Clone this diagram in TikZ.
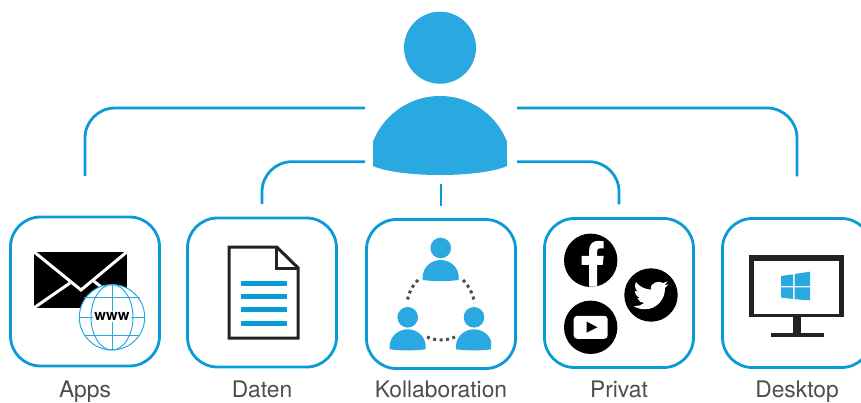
\documentclass[tikz,border=0pt]{standalone}
\usepackage{fontspec}
\setmainfont{TeX Gyre Heros}
\usetikzlibrary{positioning}
\definecolor{linkblue}{HTML}{0A9BD6}
\definecolor{userblue}{HTML}{29A9E0}
\definecolor{captiongray}{HTML}{4D4D4D}
\definecolor{framegray}{HTML}{222222}

\begin{document}
\begin{tikzpicture}[
		x=1pt,y=-1pt,
		tile/.style={draw=linkblue,line width=2.8pt,rounded corners=30pt,minimum width=149pt,minimum height=149pt,inner sep=0pt,outer sep=0pt},
		caption/.style={anchor=base,text=captiongray,font=\fontsize{22.8}{24}\selectfont,inner sep=0pt},
		link/.style={draw=linkblue,line width=2.8pt,rounded corners=30pt},
		usershape/.style={fill=userblue,draw=none},
		bar/.style={fill=linkblue},
		peerlink/.style={draw=captiongray,line width=3pt,dash pattern=on 3pt off 3.5pt},
		pics/peer/.style={code={
			\fill[userblue] (0,-32) circle (10.3);
			\fill[userblue] (-18,0) -- (-18,-3) arc (180:360:18 and 17) -- (18,-3) -- (18,0) .. controls (6,1.5) and (-6,1.5) .. cycle;
		}}
	]
	\useasboundingbox (0,0) rectangle (861,403);

	% user on top
	\node[circle,usershape,minimum size=72pt,inner sep=0pt] (head) at (440,47.7) {};
	\node[minimum width=152pt,minimum height=53.7pt,inner sep=0pt,outer sep=0pt] (user) at (441,134.85) {};
	\fill[usershape] (373,166) -- (373,141.6) arc (201.5:338.5:72) -- (507,166)
		.. controls (480,178) and (400,178) .. cycle;

	% tiles with captions
	\foreach \name/\x/\y/\txt in {apps/85/291.5/Apps,daten/262/292.5/Daten,kollab/441/294/Kollaboration,privat/619/293/Privat,desktop/797/293/Desktop}{
		\node[tile] (\name) at (\x,\y) {};
		\node[caption] (\name-cap) at (\x,397) {\txt};
	}

	% connectors
	\draw[link,shorten >=41pt] (user.north west) -| (apps.north);
	\draw[link,shorten >=14pt] (user.south west) -| (daten.north);
	\draw[link,shorten <=22.5pt,shorten >=13.5pt,rounded corners=0pt] (user.south) -- (kollab.north);
	\draw[link,shorten >=14pt] (user.south east) -| (privat.north);
	\draw[link,shorten >=42pt] (user.north east) -| (desktop.north);

	% mail with globe
	\fill[black] (34,252) rectangle (127,307.7);
	\draw[white,line width=3pt] (33,251) -- (81,290) -- (128,251);
	\draw[white,line width=3pt] (33,308.5) -- (70,283);
	\draw[white,line width=3pt] (93,280.5) -- (128,308);
	\begin{scope}[shift={(112,317.3)},draw=userblue,line width=1pt]
		\draw[fill=white] (0,0) circle (32.7);
		\draw (0,0) ellipse (21 and 32.7);
		\draw (0,-32.7) -- (0,32.7);
		\draw (-28,-20) -- (28,-20);
		\draw (-28,18) -- (28,18);
		\draw (-32.7,0) -- (32.7,0);
	\end{scope}
	\node[fill=white,inner sep=1pt,font=\bfseries\fontsize{15}{15}\selectfont] (www) at (112,316.5) {www};

	% document
	\draw[framegray,line width=3pt,fill=white,line join=miter] (229,247) -- (276.7,247) -- (298.2,268) -- (298.2,338) -- (229,338) -- cycle;
	\draw[framegray,line width=3pt] (276.7,247) -- (276.7,268.5) -- (298.2,268.5);
	\foreach \y in {283.3,296,309.3,323.3}
		\fill[bar] (241.3,\y-2.5) rectangle (286.7,\y+2.5);

	% collaboration
	\pic at (440.7,280) {peer};
	\pic at (407.7,349.3) {peer};
	\begin{scope}
		\clip (450,300) rectangle (491,352);
		\pic at (474,349.3) {peer};
	\end{scope}
	\draw[peerlink] (418,280) .. controls (412,286) and (408,294) .. (407,303);
	\draw[peerlink] (463,280) .. controls (469,286) and (473,294) .. (474.5,303);
	\draw[peerlink] (427,337) .. controls (436,341) and (446,341) .. (455,337);

	% social icons
	\fill[black] (590.7,260.3) circle (26.7);
	\fill[black] (651,295) circle (26.7);
	\fill[black] (590.7,327.3) circle (26.7);
	\fill[white,shift={(590.7,260.3)}] (-1.5,26.2) -- (-1.5,4.5) -- (-9,4.5) -- (-9,-4.5) -- (-1.5,-4.5) -- (-1.5,-10)
		.. controls (-1.5,-17) and (3,-19.5) .. (8,-19.5) -- (13,-19) -- (13,-12) -- (9,-12)
		.. controls (7,-12) and (6.5,-11) .. (6.5,-9) -- (6.5,-4.5) -- (13,-4.5) -- (12,4.5) -- (6.5,4.5) -- (6.5,26.2) -- cycle;
	\begin{scope}[shift={(633.5,277.5)},scale=1.46]
		\fill[white] (23.95,4.57) -- (21.13,5.35) -- (23.29,2.62) -- (20.17,3.8)
			.. controls (18.4,1.9) and (11,3) .. (11.9,8.29)
			.. controls (7.69,8.1) and (4.07,6.13) .. (1.64,3.16)
			-- (0.97,5.64) .. controls (0.97,7.35) and (1.84,8.85) .. (3.16,9.73)
			-- (0.93,9.11) -- (0.93,9.17) .. controls (0.93,11.5) and (2.6,13.5) .. (4.88,14)
			-- (2.67,14.08) .. controls (3.3,16) and (5.1,17.45) .. (7.27,17.5)
			.. controls (5.6,18.8) and (3.5,19.6) .. (1.17,19.6)
			.. controls (0.78,19.6) and (0.39,19.58) .. (0,19.54)
			.. controls (2.2,20.95) and (4.8,21.75) .. (7.56,21.75)
			.. controls (16.6,21.75) and (21.55,14.25) .. (21.55,7.77)
			-- (21.55,7.14) -- cycle;
	\end{scope}
	\fill[white,rounded corners=3.5pt] (573.7,315.8) rectangle (607.7,338.8);
	\fill[black] (586.7,321.6) -- (597.4,327.3) -- (586.7,332.6) -- cycle;

	% desktop
	\fill[framegray] (749,255) rectangle (844,317);
	\fill[white] (754.3,260.5) rectangle (839.3,314);
	\fill[framegray] (793,317) rectangle (800.7,334);
	\fill[framegray] (770.7,333.3) rectangle (824,336.7);
	\fill[userblue] (781,276) -- (793,274.3) -- (793,286) -- (781,286) -- cycle;
	\fill[userblue] (794.5,274) -- (810,271.7) -- (810,286) -- (794.5,286) -- cycle;
	\fill[userblue] (781,287.3) -- (793,287.3) -- (793,299) -- (781,297.5) -- cycle;
	\fill[userblue] (794.5,287.3) -- (810,287.3) -- (810,300.3) -- (794.5,299.2) -- cycle;
\end{tikzpicture}
\end{document}
